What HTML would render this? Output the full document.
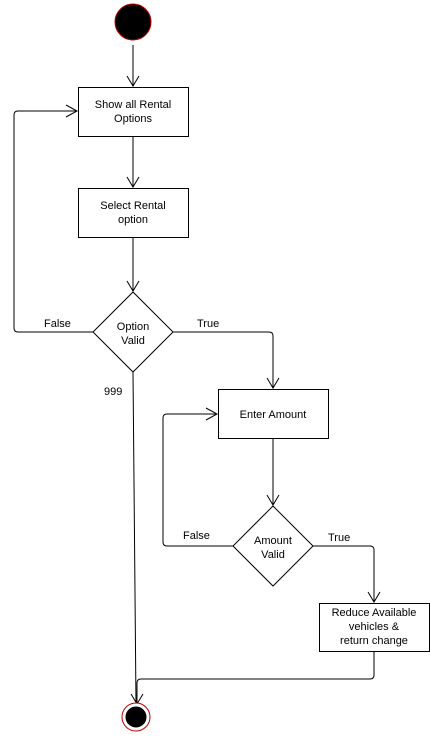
<!DOCTYPE html>
<html><head><style>
body{margin:0;background:#fff;}
svg text{font-family:"Liberation Sans",Arial,sans-serif;font-size:11px;fill:#000;}
</style></head><body>
<svg width="430" height="734" viewBox="0 0 430 734" xmlns="http://www.w3.org/2000/svg">
<g fill="none" stroke="#000" stroke-width="1">
<circle cx="133" cy="22" r="18" fill="#000" stroke="#b00"/>
<path d="M133 45V86"/><path d="M127 76L133 86L139 76"/>
<rect x="78.5" y="87.5" width="110" height="49" fill="#fff"/>
<path d="M133 137V187"/><path d="M127 177L133 187L139 177"/>
<rect x="78.5" y="188.5" width="110" height="49" fill="#fff"/>
<path d="M133 238V291"/><path d="M127 281L133 291L139 281"/>
<path d="M133 292L173 332L133 372L93 332Z" fill="#fff"/>
<path d="M93 332H18Q14 332 14 328V115Q14 111 18 111H77"/><path d="M66 105L77 111L66 117"/>
<path d="M173 332H269Q273 332 273 336V388"/><path d="M267 378L273 388L279 378"/>
<rect x="218.5" y="389.5" width="110" height="49" fill="#fff"/>
<path d="M273 439V505"/><path d="M267 495L273 505L279 495"/>
<path d="M273 506L313 546L273 586L233 546Z" fill="#fff"/>
<path d="M233 546H167Q163 546 163 542V418Q163 414 167 414H217"/><path d="M206 408L217 414L206 420"/>
<path d="M313 546H370Q374 546 374 550V602"/><path d="M368 592L374 602L380 592"/>
<rect x="319.5" y="603.5" width="110" height="48" fill="#fff"/>
<path d="M374 652V675Q374 679 370 679H141Q137 679 137 683V704"/><path d="M131 694L137 704L143 694"/>
<path d="M133 372L136 704"/>
<circle cx="136" cy="717" r="14" fill="#fff" stroke="#b00"/>
<circle cx="136" cy="717" r="10" fill="#000" stroke="#000"/>
</g>
<text x="133" y="108" text-anchor="middle">Show all Rental</text>
<text x="133" y="122" text-anchor="middle">Options</text>
<text x="133" y="209" text-anchor="middle">Select Rental</text>
<text x="133" y="223" text-anchor="middle">option</text>
<text x="133" y="330" text-anchor="middle">Option</text>
<text x="133" y="344" text-anchor="middle">Valid</text>
<text x="44" y="327">False</text>
<text x="197" y="327">True</text>
<text x="104" y="395">999</text>
<text x="273" y="418" text-anchor="middle">Enter Amount</text>
<text x="273" y="544" text-anchor="middle">Amount</text>
<text x="273" y="558" text-anchor="middle">Valid</text>
<text x="183" y="539">False</text>
<text x="328" y="541">True</text>
<text x="374" y="616" text-anchor="middle">Reduce Available</text>
<text x="374" y="630" text-anchor="middle">vehicles &amp;</text>
<text x="374" y="644" text-anchor="middle">return change</text>
</svg>
</body></html>
